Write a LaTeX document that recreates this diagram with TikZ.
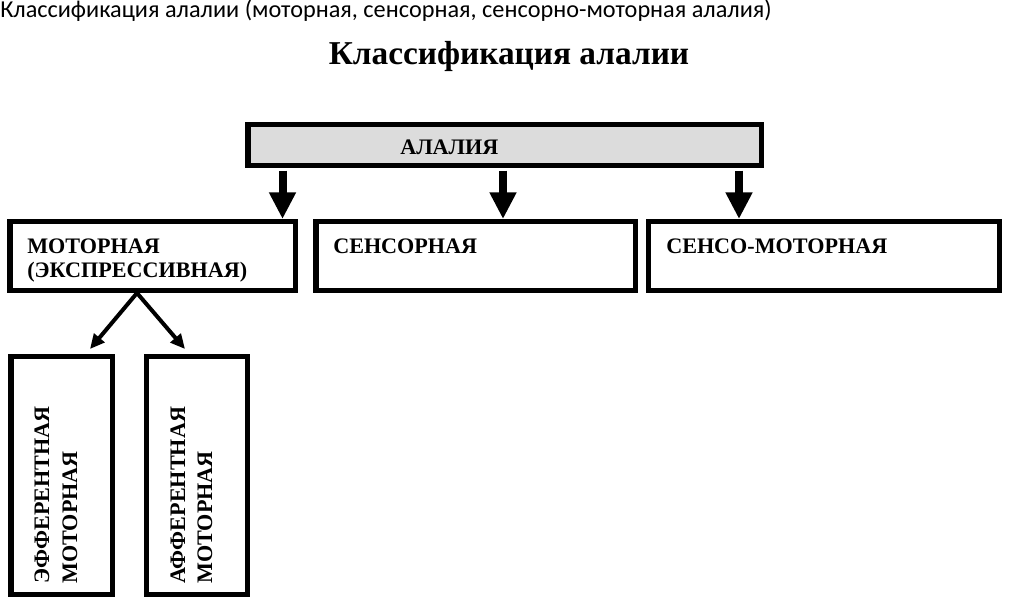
\documentclass[tikz,border=0pt]{standalone}
\usepackage{fontspec}
\setmainfont{Liberation Serif}
\newfontfamily\carlito{Carlito}
\usetikzlibrary{arrows.meta}
\definecolor{boxgray}{RGB}{220,220,220}

\begin{document}
\begin{tikzpicture}
  [x=0.75pt,y=-0.75pt,every node/.style={inner sep=0pt},
   frame/.style={draw,line width=4.1pt,rectangle},
   boxtext/.style={font=\fontsize{16.6}{18}\selectfont\bfseries,anchor=base west,align=left},
   vtext/.style={boxtext,rotate=90},
   bigarrow/.style={line width=6pt,-{Triangle[length=20pt,width=19pt]}},
   smallarrow/.style={line width=3pt,-{Triangle[length=11pt,width=10pt]}}]
  \useasboundingbox (0,0) rectangle (1024,598);

  \node [anchor=base west,font=\carlito\fontsize{18.2}{20}\selectfont] (head) at (0,18)
    {Классификация алалии (моторная, сенсорная, сенсорно-моторная алалия)};
  \node [anchor=base,font=\fontsize{25}{30}\selectfont\bfseries] (title) at (509,65)
    {Классификация алалии};

  \node [frame,fill=boxgray,minimum width=385.1pt,minimum height=30.4pt] (alalia) at (504.5,145) {};
  \node [frame,minimum width=214.1pt,minimum height=51.4pt] (motor) at (152.5,256) {};
  \node [frame,minimum width=239.6pt,minimum height=51.4pt] (sensor) at (475.5,256) {};
  \node [frame,minimum width=262.9pt,minimum height=51.4pt] (sensomotor) at (824,256) {};
  \node [frame,minimum width=76.1pt,minimum height=178.1pt] (eff) at (61.5,475.5) {};
  \node [frame,minimum width=75.4pt,minimum height=178.1pt] (aff) at (197,475.5) {};

  \node [boxtext] (talalia) at (400,155) {АЛАЛИЯ};
  \node [boxtext] (tmotor) at (27,278) {МОТОРНАЯ\\(ЭКСПРЕССИВНАЯ)};
  \node [boxtext] (tsensor) at (333,254) {СЕНСОРНАЯ};
  \node [boxtext] (tsensomotor) at (666,254) {СЕНСО-МОТОРНАЯ};
  \node [vtext] (teff1) at (49,584) {ЭФФЕРЕНТНАЯ};
  \node [vtext] (teff2) at (77,584) {МОТОРНАЯ};
  \node [vtext] (taff1) at (185,584) {АФФЕРЕНТНАЯ};
  \node [vtext] (taff2) at (212,584) {МОТОРНАЯ};

  \coordinate (a1) at (282.5,0);
  \coordinate (a2) at (503,0);
  \coordinate (a3) at (739,0);
  \foreach \pos/\to in {a1/motor,a2/sensor,a3/sensomotor}
    \draw [bigarrow,shorten <=2pt] (alalia.south -| \pos) -- (\to.north -| \pos);

  \coordinate (fork) at (137,0);
  \coordinate (tipeff) at (90,349);
  \coordinate (tipaff) at (185,349);
  \foreach \to in {tipeff,tipaff}
    \draw [smallarrow] (motor.south -| fork) -- (\to);

\end{tikzpicture}
\end{document}
